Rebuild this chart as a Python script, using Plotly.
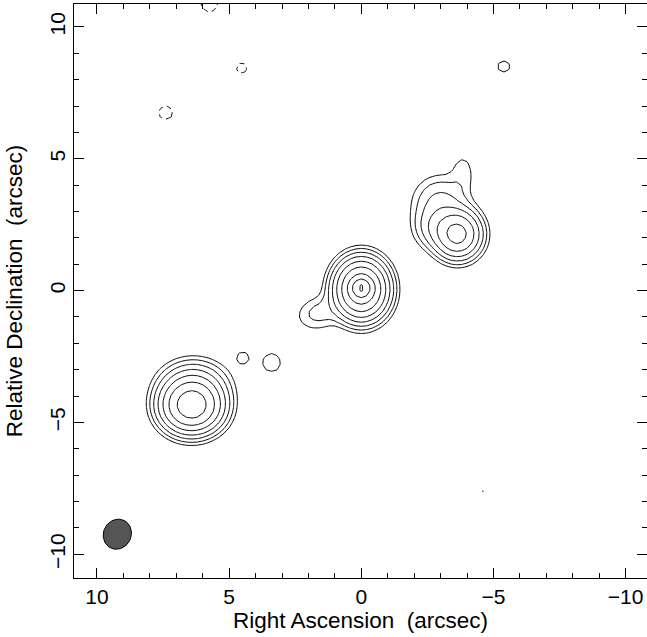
import numpy as np
import plotly.graph_objects as go

# ---- data: model components of the radio map (arcsec offsets, peak in units of lowest contour) ----
comp_ra      = [0.00, 0.00, 1.60, 6.42, 6.35, -3.64, -3.00, -2.80, -3.85, 4.48, 3.39, -5.39, -7.32, -4.60, 4.53, 7.40, 5.75]
comp_dec     = [0.05, 0.10, -0.85, -4.36, -3.60, 2.14, 3.30, 2.40, 4.50, -2.55, -2.73, 8.50, 5.99, -7.62, 8.43, 6.75, 10.90]
comp_peak    = [105.0, 195.0, 2.6, 100.0, 12.0, 42.0, 5.0, 6.0, 1.5, 1.4, 1.76, 1.18, 1.02, 1.02, -1.2, -1.25, -1.3]
comp_sig_maj = [0.48, 0.20, 0.55, 0.56, 0.65, 0.45, 0.60, 0.45, 0.30, 0.28, 0.32, 0.40, 0.30, 0.30, 0.35, 0.40, 0.45]
comp_sig_min = [0.55, 0.20, 0.40, 0.50, 0.50, 0.47, 0.60, 0.45, 0.50, 0.28, 0.32, 0.40, 0.30, 0.30, 0.35, 0.40, 0.45]
comp_angle   = [0, 0, -15, 0, 0, 0, 0, 0, 0, 0, 0, 0, 0, 0, 0, 0, 0]

contour_levels = [1, 2, 4, 8, 16, 32, 64, 128, 256]   # positive levels (x lowest)
negative_levels = [-1]

beam_ra, beam_dec = 9.23, -9.24
beam_major, beam_minor, beam_pa = 1.16, 1.05, -25.0

x_ticks = [10, 5, 0, -5, -10]
y_ticks = [-10, -5, 0, 5, 10]

# ---- build the map ----
step = 0.2
ra = np.round(np.arange(-11.0, 11.0 + step / 2, step), 4)
dec = np.round(np.arange(-11.0, 11.0 + step / 2, step), 4)
RA, DEC = np.meshgrid(ra, dec)
Z = np.zeros_like(RA)
for r0, d0, a, su, sv, ang in zip(comp_ra, comp_dec, comp_peak, comp_sig_maj, comp_sig_min, comp_angle):
    t = np.deg2rad(ang)
    dx, dy = RA - r0, DEC - d0
    u = dx * np.cos(t) + dy * np.sin(t)
    v = -dx * np.sin(t) + dy * np.cos(t)
    Z += a * np.exp(-(u ** 2 / (2 * su ** 2) + v ** 2 / (2 * sv ** 2)))

floor = 2.0 ** -6
Zpos = np.round(np.log2(np.clip(Z, floor, None)), 4)
Zneg = np.round(np.log2(np.clip(-Z, floor, None)), 4)

lv = np.log2(contour_levels)
nlv = np.log2(np.abs(negative_levels))

fig = go.Figure()
fig.add_trace(go.Contour(
    x=ra, y=dec, z=Zpos, showscale=False, hoverinfo="skip",
    contours=dict(start=float(lv.min()), end=float(lv.max()), size=1, coloring="none"),
    line=dict(color="black", width=1, smoothing=0.3),
))
fig.add_trace(go.Contour(
    x=ra, y=dec, z=Zneg, showscale=False, hoverinfo="skip",
    contours=dict(start=float(nlv.min()), end=float(nlv.max()), size=1, coloring="none"),
    line=dict(color="black", width=1, dash="5px,4px", smoothing=0.3),
))

# beam ellipse
th = np.linspace(0, 2 * np.pi, 73)
pa = np.deg2rad(beam_pa)
a_ = beam_major / 2
b_ = beam_minor / 2
u = a_ * np.cos(th)
v = b_ * np.sin(th)
bx = beam_ra + u * np.sin(pa) + v * np.cos(pa)
by = beam_dec + u * np.cos(pa) - v * np.sin(pa)
fig.add_trace(go.Scatter(x=bx, y=by, mode="lines", fill="toself",
                         fillcolor="#555555", line=dict(color="black", width=1),
                         hoverinfo="skip"))

axis_common = dict(
    showgrid=False, zeroline=False, showline=True, linecolor="black", linewidth=1,
    mirror="allticks", ticks="inside", ticklen=10, tickwidth=1, tickcolor="black",
    tickfont=dict(size=21, color="black"), automargin=False,
    minor=dict(dtick=1, ticks="inside", ticklen=5, tickwidth=1, tickcolor="black", showgrid=False),
)

fig.update_layout(
    width=647, height=637, autosize=False,
    margin=dict(l=74, r=0, t=4, b=59, pad=0, autoexpand=False),
    paper_bgcolor="white", plot_bgcolor="white",
    showlegend=False,
    font=dict(family="Liberation Sans, Arial, sans-serif", size=21, color="black"),
    xaxis=dict(range=[10.87, -10.81], autorange=False, tickvals=x_ticks,
               title=dict(text="Right Ascension\u00a0 (arcsec)", standoff=4, font=dict(size=22.5)),
               **axis_common),
    yaxis=dict(range=[-10.9, 10.87], autorange=False, tickvals=y_ticks, tickangle=-90,
               title=dict(text="Relative Declination\u00a0 (arcsec)", standoff=16, font=dict(size=22.5)),
               **axis_common),
)

fig.write_html("out.html")
